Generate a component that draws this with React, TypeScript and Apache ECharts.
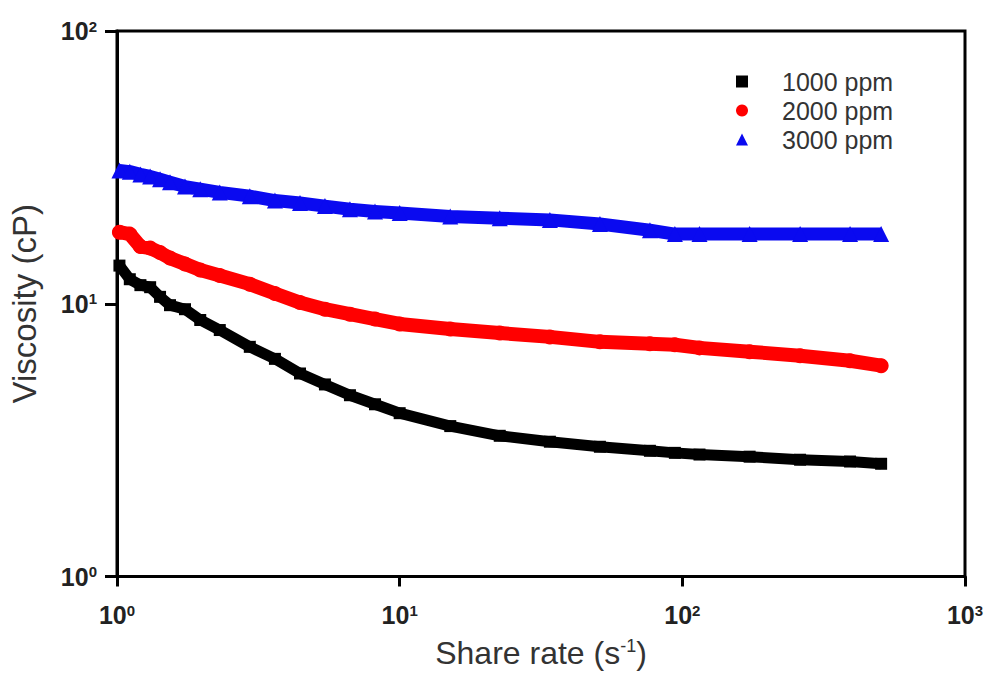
import React, { useEffect, useRef } from "react";
import * as echarts from "echarts";

// Shear rate (s^-1) sample positions
const shearRate = [1.02, 1.11, 1.21, 1.31, 1.42, 1.54, 1.74, 1.97, 2.31, 2.95, 3.62, 4.44, 5.44, 6.67, 8.18, 10.0, 15.1, 22.6, 34.0, 51.1, 76.8, 94.1, 115, 173, 261, 392, 505];
// Viscosity (cP)
const visc1000 = [13.8, 12.3, 11.7, 11.5, 10.6, 9.88, 9.55, 8.72, 8.01, 6.95, 6.28, 5.55, 5.06, 4.62, 4.28, 3.97, 3.56, 3.28, 3.12, 2.99, 2.89, 2.84, 2.8, 2.75, 2.68, 2.64, 2.59];
const visc2000 = [18.3, 18.0, 16.2, 16.0, 15.4, 14.7, 14.0, 13.3, 12.7, 11.8, 10.9, 10.1, 9.55, 9.16, 8.79, 8.43, 8.08, 7.81, 7.56, 7.25, 7.13, 7.07, 6.89, 6.67, 6.45, 6.18, 5.93];
const visc3000 = [30.8, 30.5, 29.8, 29.3, 28.6, 27.9, 26.9, 26.3, 25.6, 24.8, 23.9, 23.4, 22.8, 22.2, 21.8, 21.5, 20.9, 20.6, 20.3, 19.6, 18.6, 18.0, 18.0, 18.0, 18.0, 18.0, 18.0];

const seriesNames = ["1000 ppm", "2000 ppm", "3000 ppm"];

const FONT = "'Liberation Sans', Arial, sans-serif";

function pairs(ys: number[]) {
  return shearRate.map((x, i) => [x, ys[i]]);
}

const supLabel = (v: number) => {
  const e = Math.round(Math.log10(v));
  return "{b|10}{s|" + e + "}";
};

const labelRich = {
  b: { fontSize: 25, fontWeight: "bold", color: "#222", fontFamily: FONT },
  s: { fontSize: 15, fontWeight: "bold", color: "#222", fontFamily: FONT, padding: [0, 0, 10, 0] },
};

export default function App() {
  const ref = useRef<HTMLDivElement>(null);
  useEffect(() => {
    if (!ref.current) return;
    const chart = echarts.init(ref.current, undefined, { renderer: "svg" });
    chart.setOption({
      animation: false,
      backgroundColor: "#ffffff",
      grid: {
        left: 117,
        right: 22,
        top: 31,
        bottom: 92,
        show: true,
        borderColor: "#000",
        borderWidth: 3,
        containLabel: false,
      },
      legend: {
        orient: "vertical",
        left: 731,
        top: 64,
        itemWidth: 12,
        itemHeight: 12,
        itemGap: 4,
        data: [
          { name: seriesNames[0], icon: "rect" },
          { name: seriesNames[1], icon: "circle" },
          { name: seriesNames[2], icon: "triangle" },
        ],
        formatter: "{t|{name}}",
        textStyle: {
          fontSize: 25,
          rich: {
            t: { fontSize: 25, color: "#333", fontFamily: FONT, padding: [0, 0, 0, 29] },
          },
        },
      },
      xAxis: {
        type: "log",
        logBase: 10,
        min: 1,
        max: 1000,
        splitNumber: 3,
        name: "Share rate (s{s|-1})",
        nameLocation: "middle",
        nameGap: 60,
        nameTextStyle: {
          fontSize: 32,
          color: "#333",
          fontFamily: FONT,
          rich: {
            s: { fontSize: 18, color: "#333", fontFamily: FONT, padding: [0, 0, 15, 0] },
          },
        },
        axisLine: { show: true, lineStyle: { color: "#000", width: 3 } },
        axisTick: { show: true, length: 10, lineStyle: { color: "#000", width: 3 } },
        minorTick: { show: false },
        splitLine: { show: false },
        axisLabel: {
          margin: 26,
          fontSize: 25,
          fontWeight: "bold",
          fontFamily: FONT,
          color: "#222",
          formatter: supLabel,
          rich: labelRich,
        },
      },
      yAxis: {
        type: "log",
        logBase: 10,
        min: 1,
        max: 100,
        splitNumber: 2,
        name: "Viscosity (cP)",
        nameLocation: "middle",
        nameGap: 76,
        nameTextStyle: { fontSize: 33, color: "#333", fontFamily: FONT },
        axisLine: { show: true, lineStyle: { color: "#000", width: 3 } },
        axisTick: { show: true, length: 12, lineStyle: { color: "#000", width: 3 } },
        minorTick: { show: false },
        splitLine: { show: false },
        axisLabel: {
          margin: 20,
          fontSize: 25,
          fontWeight: "bold",
          fontFamily: FONT,
          color: "#222",
          formatter: supLabel,
          rich: labelRich,
        },
      },
      series: [
        {
          name: seriesNames[0],
          type: "line",
          data: pairs(visc1000),
          symbol: "rect",
          symbolSize: 12,
          showSymbol: true,
          itemStyle: { color: "#000000" },
          lineStyle: { color: "#000000", width: 11, cap: "butt", join: "round" },
        },
        {
          name: seriesNames[1],
          type: "line",
          data: pairs(visc2000),
          symbol: "circle",
          symbolSize: 15,
          showSymbol: true,
          itemStyle: { color: "#ff0000" },
          lineStyle: { color: "#ff0000", width: 14, cap: "round", join: "round" },
        },
        {
          name: seriesNames[2],
          type: "line",
          data: pairs(visc3000),
          symbol: "triangle",
          symbolSize: 16,
          showSymbol: true,
          itemStyle: { color: "#0a0af0" },
          lineStyle: { color: "#0a0af0", width: 13, cap: "butt", join: "round" },
        },
      ],
    });
    return () => chart.dispose();
  }, []);
  return (
    <div
      ref={ref}
      style={{ position: "absolute", left: 0, top: 0, width: 987, height: 674 }}
    />
  );
}
